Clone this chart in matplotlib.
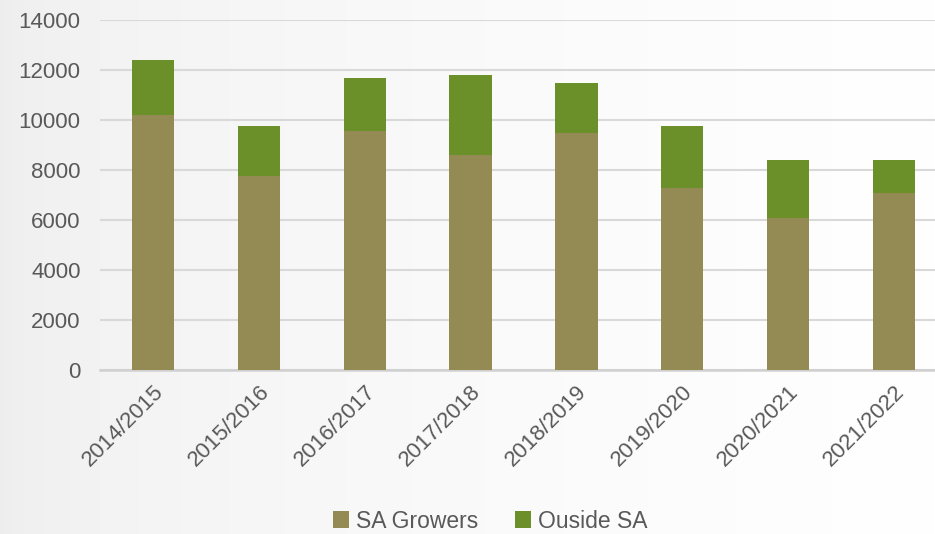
import numpy as np
import matplotlib
matplotlib.use("Agg")
import matplotlib.pyplot as plt

seasons = ["2014/2015", "2015/2016", "2016/2017", "2017/2018",
           "2018/2019", "2019/2020", "2020/2021", "2021/2022"]
sa_growers = [10200, 7750, 9560, 8600, 9500, 7280, 6100, 7080]
totals = [12400, 9750, 11700, 11800, 11500, 9750, 8400, 8400]
outside_sa = [t - s for t, s in zip(totals, sa_growers)]

C_SA = "#948A54"
C_OUT = "#6C9029"
TXT = "#595959"

plt.rcParams["font.family"] = ["Liberation Sans", "DejaVu Sans"]

fig = plt.figure(figsize=(9.35, 5.34), dpi=100)

# soft grey wash on the left fading to white
bg = fig.add_axes([0, 0, 1, 1], zorder=-10)
grad = np.linspace(0, 1, 600)
wash = np.clip(0.93 + 0.07 * grad ** 0.5, 0, 1)
rgb = np.dstack([np.tile(wash, (4, 1))] * 3)
bg.imshow(rgb, aspect="auto", extent=[0, 1, 0, 1], interpolation="bilinear")
bg.axis("off")

ax = fig.add_axes([100 / 935, 164 / 534, 847 / 935, 350 / 534])
ax.patch.set_alpha(0)

x = np.arange(len(seasons))
ax.bar(x, sa_growers, width=0.4, color=C_SA, label="SA Growers", zorder=3)
ax.bar(x, outside_sa, width=0.4, bottom=sa_growers, color=C_OUT,
       label="Ouside SA", zorder=3)

ax.set_xlim(-0.5, len(seasons) - 0.5)
ax.set_ylim(0, 14000)
ax.set_yticks(range(0, 14001, 2000))
ax.yaxis.grid(True, color="#d9d9d9", linewidth=1.5, zorder=0)
ax.set_axisbelow(True)
for s in ["top", "right", "left"]:
    ax.spines[s].set_visible(False)
ax.spines["bottom"].set_color("#d0d0d0")
ax.spines["bottom"].set_linewidth(1.8)

ax.set_xticks(x)
ax.set_xticklabels(seasons, rotation=45, ha="right", rotation_mode="anchor")
ax.tick_params(axis="both", length=0, labelsize=16, colors=TXT)
ax.tick_params(axis="y", pad=14)
ax.tick_params(axis="x", pad=8)

fig.legend(loc="center", bbox_to_anchor=(490 / 935, 1 - 521 / 534),
           ncol=2, frameon=False, fontsize=16.5, labelcolor=TXT,
           handlelength=0.7, handleheight=0.7, handletextpad=0.3,
           columnspacing=1.6)

fig.savefig("out.png", dpi=100)
